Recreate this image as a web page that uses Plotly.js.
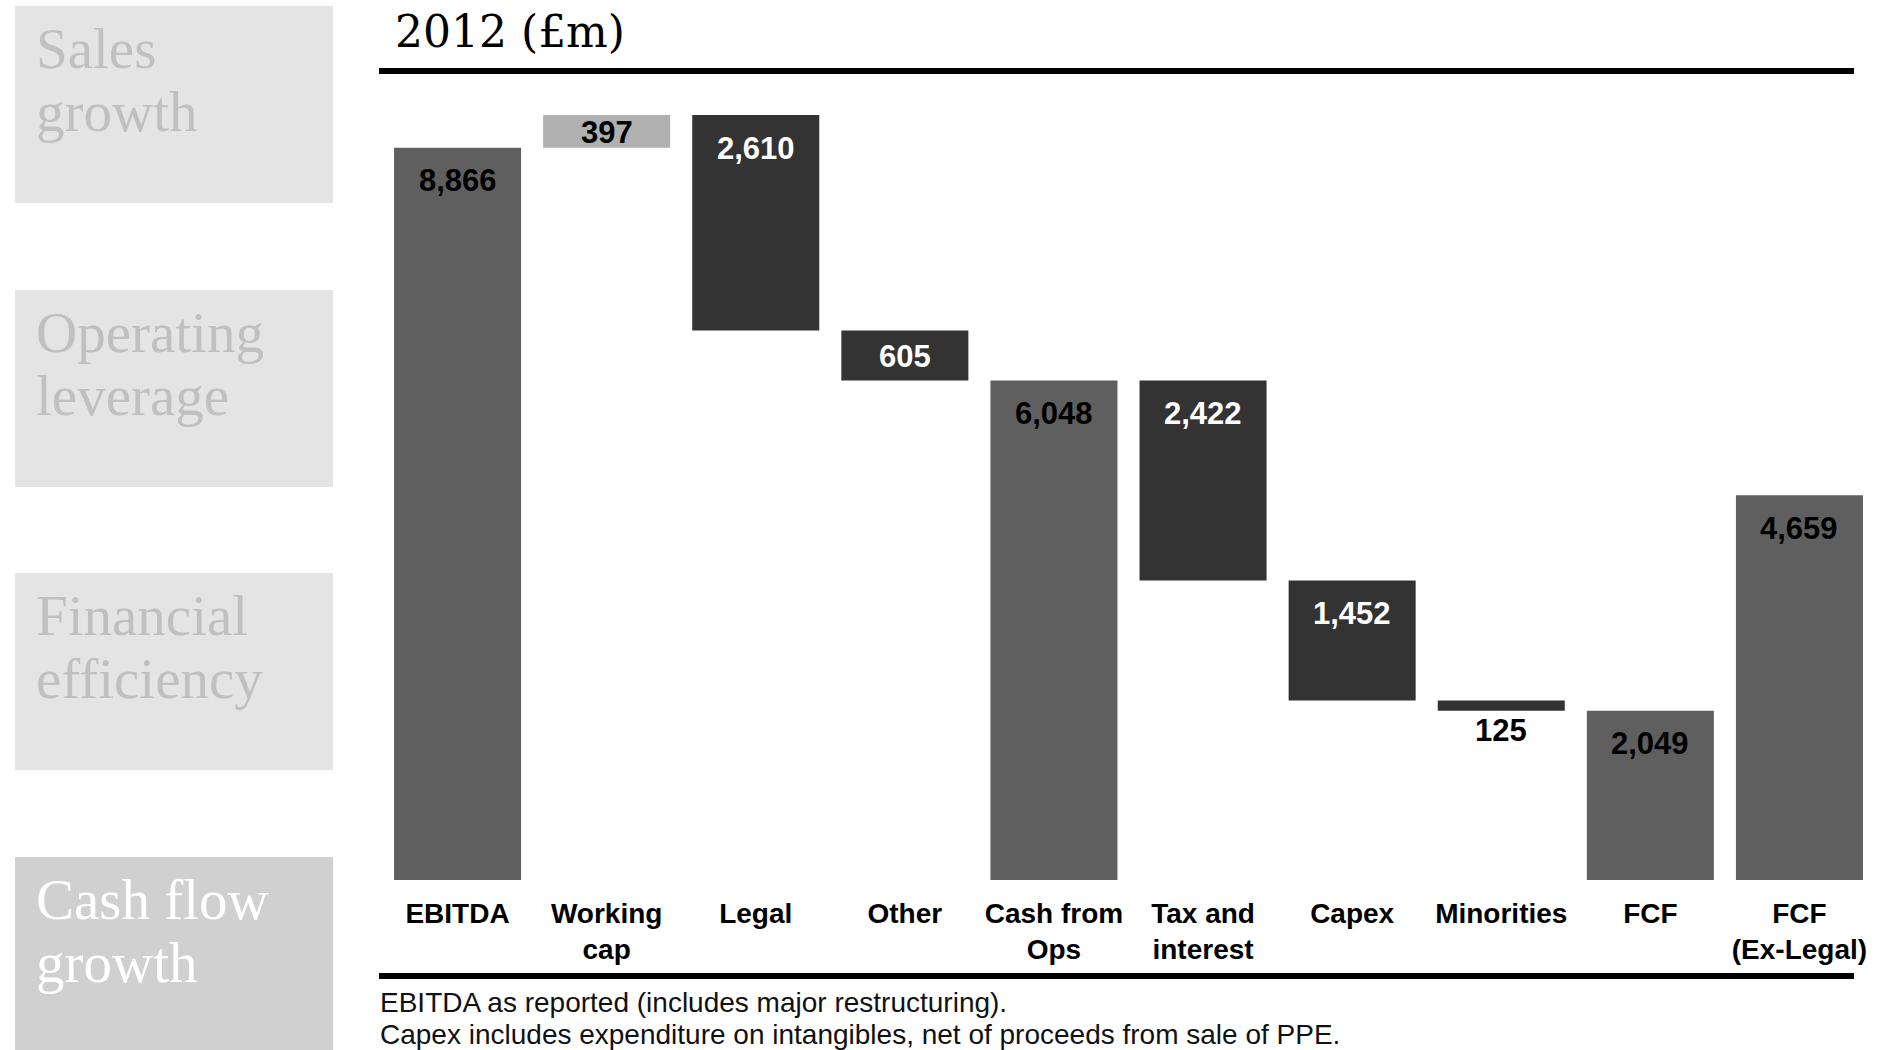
<!DOCTYPE html>
<html>
<head>
<meta charset="utf-8">
<script src="https://cdn.plot.ly/plotly-3.0.1.min.js"></script>
<style>
  html, body { margin: 0; padding: 0; background: #ffffff; }
  #chart { width: 1885px; height: 1050px; }
</style>
</head>
<body>
<div id="chart"></div>
<script>
// ---------------- data ----------------
const categories = ['EBITDA', 'Working cap', 'Legal', 'Other', 'Cash from Ops',
                    'Tax and interest', 'Capex', 'Minorities', 'FCF', 'FCF (Ex-Legal)'];
const tickLabels = ['EBITDA', 'Working<br>cap', 'Legal', 'Other', 'Cash from<br>Ops',
                    'Tax and<br>interest', 'Capex', 'Minorities', 'FCF', 'FCF<br>(Ex-Legal)'];
const measures = ['absolute', 'relative', 'relative', 'relative', 'total',
                  'relative', 'relative', 'relative', 'total', 'absolute'];
const values = [8866, 397, -2610, -605, 0, -2422, -1452, -125, 0, 4659];
const chartTitle = '2012 (£m)';
const sideLabels = [['Sales', 'growth'], ['Operating', 'leverage'],
                    ['Financial', 'efficiency'], ['Cash flow', 'growth']];
const footnotes = ['EBITDA as reported (includes major restructuring).',
                   'Capex includes expenditure on intangibles, net of proceeds from sale of PPE.'];

// ---------------- layout constants ----------------
const W = 1885, Hh = 1050;
const L = 383, R = 11, T = 100, B = 170;
const PW = W - L - R, PH = Hh - T - B;
const yMax = 9445;
const SANS = 'Liberation Sans, Arial, sans-serif';
const SERIF = 'Liberation Serif, Georgia, serif';
const TITLE_SERIF = 'DejaVu Serif, Georgia, serif';
const COL_TOT = '#5f5f5f', COL_DEC = '#333333', COL_INC = '#b0b0b0';

const px2x = p => (p - L) / PW;
const px2y = p => (T + PH - p) / PH;

// ---------------- derive bar extents ----------------
let run = 0;
const bars = values.map((v, i) => {
  const m = measures[i];
  if (m === 'absolute') { run = v; return {lo: 0, hi: v, shown: v, kind: 'tot'}; }
  if (m === 'total') { return {lo: 0, hi: run, shown: run, kind: 'tot'}; }
  const prev = run; run += v;
  return {lo: Math.min(prev, run), hi: Math.max(prev, run), shown: Math.abs(v), kind: v > 0 ? 'inc' : 'dec'};
});
const fmt = n => n.toLocaleString('en-US');
const pxPerUnit = PH / yMax;

const annotations = [];
bars.forEach((b, i) => {
  const hpx = (b.hi - b.lo) * pxPerUnit;
  const ann = {
    x: categories[i], xref: 'x', yref: 'y', y: b.hi, text: fmt(b.shown), showarrow: false,
    font: {family: SANS, size: 31, weight: 'bold', color: b.kind === 'dec' ? '#ffffff' : '#000000'}
  };
  if (hpx >= 60) { ann.yanchor = 'middle'; ann.yshift = -33; }
  else if (hpx >= 25) { ann.y = (b.hi + b.lo) / 2; ann.yanchor = 'middle'; ann.yshift = -1; }
  else { ann.y = b.lo; ann.yanchor = 'top'; ann.yshift = -0.5; ann.font.color = '#000000'; }
  annotations.push(ann);
});

// side panel
const boxTops = [6, 290, 573, 857];
const boxBottoms = [203, 487, 770, 1050];
const boxFill = ['#e4e4e4', '#e4e4e4', '#e4e4e4', '#d0d0d0'];
const boxText = ['#c0c0c0', '#c0c0c0', '#c0c0c0', '#ffffff'];
const shapes = [];
sideLabels.forEach((lines, k) => {
  shapes.push({type: 'rect', xref: 'paper', yref: 'paper', layer: 'below',
    x0: px2x(15), x1: px2x(333), y0: px2y(boxBottoms[k]), y1: px2y(boxTops[k]),
    fillcolor: boxFill[k], line: {width: 0}});
  lines.forEach((t, j) => {
    const baseline = boxTops[k] + 60 + j * 63;
    annotations.push({xref: 'paper', yref: 'paper', x: px2x(34), y: px2y(baseline - 51),
      xanchor: 'left', yanchor: 'top', text: t, showarrow: false,
      font: {family: SERIF, size: 57, color: boxText[k]}});
  });
});

// rules
[71, 976].forEach(yc => shapes.push({type: 'line', xref: 'paper', yref: 'paper',
  x0: px2x(379), x1: px2x(1854), y0: px2y(yc), y1: px2y(yc), line: {color: '#000000', width: 6}}));

// footnotes
footnotes.forEach((t, j) => {
  const baseline = 1012 + j * 32;
  annotations.push({xref: 'paper', yref: 'paper', x: px2x(380), y: px2y(baseline - 25.3),
    xanchor: 'left', yanchor: 'top', text: t, showarrow: false,
    borderpad: 0, borderwidth: 0,
    font: {family: SANS, size: 28, color: '#111111'}});
});

const trace = {
  type: 'waterfall', x: categories, y: values, measure: measures,
  connector: {visible: false},
  increasing: {marker: {color: COL_INC}},
  decreasing: {marker: {color: COL_DEC}},
  totals: {marker: {color: COL_TOT}},
  textinfo: 'none', hoverinfo: 'skip'
};

const layout = {
  width: W, height: Hh,
  margin: {l: L, r: R, t: T, b: B},
  paper_bgcolor: '#ffffff', plot_bgcolor: '#ffffff',
  showlegend: false, waterfallgap: 0.148,
  title: {text: chartTitle, font: {family: TITLE_SERIF, size: 44, color: '#000000'},
    xref: 'container', yref: 'container', x: 395 / W, xanchor: 'left', y: 1 - 47 / Hh, yanchor: 'bottom'},
  xaxis: {type: 'category', tickvals: categories, ticktext: tickLabels,
    showgrid: false, zeroline: false, showline: false, ticks: '',
    tickfont: {family: SANS, size: 28, weight: 'bold', color: '#000000'},
    ticklabelstandoff: 14, fixedrange: true},
  yaxis: {range: [0, yMax], visible: false, fixedrange: true},
  shapes: shapes, annotations: annotations
};

Plotly.newPlot('chart', [trace], layout, {displayModeBar: false, staticPlot: true});
</script>
</body>
</html>
